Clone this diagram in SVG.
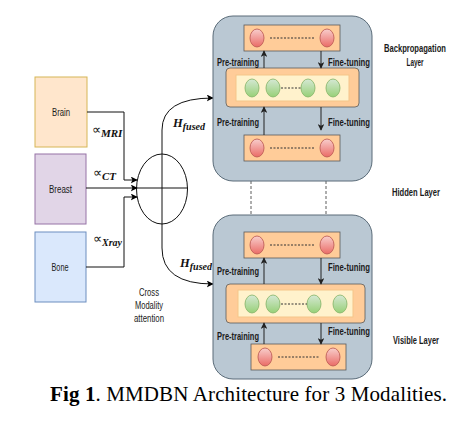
<svg xmlns="http://www.w3.org/2000/svg" width="472" height="442" viewBox="0 0 472 442">
<defs>
<linearGradient id="gRed" x1="0" y1="0" x2="0" y2="1"><stop offset="0" stop-color="#F8CECC"/><stop offset="1" stop-color="#EA6B66"/></linearGradient>
<linearGradient id="gGreen" x1="0" y1="0" x2="0" y2="1"><stop offset="0" stop-color="#D5E8D4"/><stop offset="1" stop-color="#97D077"/></linearGradient>
<marker id="arr" viewBox="0 0 10 10" refX="9" refY="5" markerWidth="7" markerHeight="7" markerUnits="userSpaceOnUse" orient="auto"><path d="M0,0 L10,5 L0,10 L2.5,5 Z" fill="#000"/></marker>
<marker id="arrS" viewBox="0 0 10 10" refX="9" refY="5" markerWidth="6.5" markerHeight="6.5" markerUnits="userSpaceOnUse" orient="auto"><path d="M0,0 L10,5 L0,10 L2.5,5 Z" fill="#222"/></marker>
</defs>
<style>
.lbl{font-family:"Liberation Sans Narrow","Liberation Sans",Arial,sans-serif;font-size:11px;fill:#1a1a1a}
.b{font-weight:bold}
.panel{fill:#BAC8D3;stroke:#5A6B78;stroke-width:1}
.obox{fill:#FFCC99;stroke:#5A5A5A;stroke-width:0.8}
.ibox{fill:#FFF2CC;stroke:#F5C58A;stroke-width:1}
.red{fill:url(#gRed);stroke:#B85450;stroke-width:0.8}
.grn{fill:url(#gGreen);stroke:#82B366;stroke-width:0.8}
.dot{stroke:#333;stroke-width:1;stroke-dasharray:2 1.5;fill:none}
.ln{stroke:#111;stroke-width:1;fill:none}
.arl{stroke:#222;stroke-width:1;fill:none;marker-end:url(#arrS)}
.math{font-family:"Liberation Serif","Times New Roman",serif;fill:#111}
</style>
<rect width="472" height="442" fill="#fff"/>

<g id="brain"><rect x="35" y="77" width="52" height="70" fill="#FFE6CC" stroke="#D6B656" stroke-width="1"/><text class="lbl" x="61" y="116" text-anchor="middle" textLength="18" lengthAdjust="spacingAndGlyphs">Brain</text></g>
<g id="breast"><rect x="35" y="154" width="51" height="70" fill="#E1D5E7" stroke="#9673A6" stroke-width="1"/><text class="lbl" x="60.5" y="193" text-anchor="middle" textLength="23" lengthAdjust="spacingAndGlyphs">Breast</text></g>
<g id="bone"><rect x="35" y="232" width="51" height="70" fill="#DAE8FC" stroke="#6C8EBF" stroke-width="1"/><text class="lbl" x="60" y="271" text-anchor="middle" textLength="17" lengthAdjust="spacingAndGlyphs">Bone</text></g>

<g id="attention">
<ellipse cx="162" cy="189" rx="25.5" ry="35" fill="none" stroke="#111" stroke-width="1"/>
<line x1="137" y1="188" x2="188" y2="188" class="ln"/>
<text class="lbl" x="149" y="296" text-anchor="middle" textLength="20" lengthAdjust="spacingAndGlyphs">Cross</text>
<text class="lbl" x="149" y="309" text-anchor="middle" textLength="28" lengthAdjust="spacingAndGlyphs">Modality</text>
<text class="lbl" x="149" y="322" text-anchor="middle" textLength="30" lengthAdjust="spacingAndGlyphs">attention</text>
</g>

<g id="connectors">
<path d="M87,112 H124 V180 H137" class="ln" marker-end="url(#arr)"/>
<path d="M86,188 H137" class="ln" marker-end="url(#arr)"/>
<path d="M86,267 H124 V197 H137" class="ln" marker-end="url(#arr)"/>
<path d="M162,224 V154 M162,154 V130 Q162,98 213,98" class="ln" marker-end="url(#arr)"/>
<path d="M162,224 V248 Q162,284 213,284" class="ln" marker-end="url(#arr)"/>
<line x1="251" y1="181" x2="251" y2="215" stroke="#333" stroke-width="0.8" stroke-dasharray="3 2"/>
<line x1="326" y1="181" x2="326" y2="215" stroke="#333" stroke-width="0.8" stroke-dasharray="3 2"/>
</g>

<g id="alpha-labels">
<text class="math" x="92" y="134" font-size="13">∝<tspan font-weight="bold" font-style="italic" font-size="11" dy="3">MRI</tspan></text>
<text class="math" x="93" y="177" font-size="13">∝<tspan font-weight="bold" font-style="italic" font-size="11" dy="3">CT</tspan></text>
<text class="math" x="93" y="243" font-size="13">∝<tspan font-weight="bold" font-style="italic" font-size="10" dy="3">Xray</tspan></text>
<text class="math" x="173" y="127" font-size="12.5" font-weight="bold" font-style="italic">H<tspan font-size="10" dy="3">fused</tspan></text>
<text class="math" x="180" y="267" font-size="12.5" font-weight="bold" font-style="italic">H<tspan font-size="10" dy="3">fused</tspan></text>
</g>

<g id="top-panel">
<rect class="panel" x="213" y="16" width="159" height="165" rx="20"/>
<rect class="obox" x="244" y="25" width="96" height="26"/>
<ellipse class="red" cx="257" cy="38" rx="7" ry="9"/><ellipse class="red" cx="327" cy="38" rx="7" ry="9"/>
<line class="dot" x1="270" y1="38" x2="314" y2="38"/>
<rect class="obox" x="226" y="68" width="133" height="39" rx="4"/>
<rect class="ibox" x="236" y="75" width="113" height="26"/>
<ellipse class="grn" cx="252" cy="88" rx="7" ry="9"/><ellipse class="grn" cx="273" cy="88" rx="7" ry="9"/>
<ellipse class="grn" cx="308" cy="88" rx="7" ry="9"/><ellipse class="grn" cx="333" cy="88" rx="7" ry="9"/>
<line class="dot" x1="281" y1="88" x2="301" y2="88"/>
<rect class="obox" x="244" y="135" width="96" height="26"/>
<ellipse class="red" cx="257" cy="148" rx="7" ry="9"/><ellipse class="red" cx="327" cy="148" rx="7" ry="9"/>
<line class="dot" x1="270" y1="148" x2="314" y2="148"/>
<path class="arl" d="M264,68 V51"/><path class="arl" d="M321,51 V68"/>
<path class="arl" d="M264,135 V107"/><path class="arl" d="M321,107 V130"/>
<text class="lbl b" x="217" y="66" textLength="42" lengthAdjust="spacingAndGlyphs">Pre-training</text>
<text class="lbl b" x="328" y="66" textLength="42" lengthAdjust="spacingAndGlyphs">Fine-tuning</text>
<text class="lbl b" x="217" y="126" textLength="42" lengthAdjust="spacingAndGlyphs">Pre-training</text>
<text class="lbl b" x="328" y="126" textLength="42" lengthAdjust="spacingAndGlyphs">Fine-tuning</text>
</g>

<g id="bottom-panel">
<rect class="panel" x="213" y="215" width="159" height="164" rx="20"/>
<rect class="obox" x="244" y="232" width="96" height="26"/>
<ellipse class="red" cx="257" cy="245" rx="7" ry="9"/><ellipse class="red" cx="327" cy="245" rx="7" ry="9"/>
<line class="dot" x1="270" y1="245" x2="314" y2="245"/>
<rect class="obox" x="226" y="284" width="139" height="39" rx="4"/>
<rect class="ibox" x="238" y="290" width="115" height="27"/>
<ellipse class="grn" cx="252" cy="304" rx="7" ry="9"/><ellipse class="grn" cx="273" cy="304" rx="7" ry="9"/>
<ellipse class="grn" cx="314" cy="304" rx="7" ry="9"/><ellipse class="grn" cx="340" cy="304" rx="7" ry="9"/>
<line class="dot" x1="281" y1="304" x2="307" y2="304"/>
<rect class="obox" x="251" y="344" width="95" height="26"/>
<ellipse class="red" cx="265" cy="357" rx="7" ry="9"/><ellipse class="red" cx="333" cy="357" rx="7" ry="9"/>
<line class="dot" x1="278" y1="357" x2="320" y2="357"/>
<path class="arl" d="M264,284 V258"/><path class="arl" d="M321,258 V284"/>
<path class="arl" d="M264,344 V323"/><path class="arl" d="M321,323 V344"/>
<text class="lbl b" x="217" y="275" textLength="42" lengthAdjust="spacingAndGlyphs">Pre-training</text>
<text class="lbl b" x="328" y="271" textLength="42" lengthAdjust="spacingAndGlyphs">Fine-tuning</text>
<text class="lbl b" x="217" y="340" textLength="42" lengthAdjust="spacingAndGlyphs">Pre-training</text>
<text class="lbl b" x="328" y="335" textLength="42" lengthAdjust="spacingAndGlyphs">Fine-tuning</text>
</g>

<g id="layer-labels">
<text class="lbl b" x="415" y="52" text-anchor="middle" textLength="62" lengthAdjust="spacingAndGlyphs">Backpropagation</text>
<text class="lbl b" x="415" y="66" text-anchor="middle" textLength="17" lengthAdjust="spacingAndGlyphs">Layer</text>
<text class="lbl b" x="416" y="196" text-anchor="middle" textLength="48" lengthAdjust="spacingAndGlyphs">Hidden Layer</text>
<text class="lbl b" x="416" y="344" text-anchor="middle" textLength="46" lengthAdjust="spacingAndGlyphs">Visible Layer</text>
</g>

<text x="50" y="401" font-family="'Liberation Serif','Times New Roman',serif" font-size="21" fill="#000" textLength="397" lengthAdjust="spacing"><tspan font-weight="bold">Fig 1</tspan>. MMDBN Architecture for 3 Modalities.</text>
</svg>
